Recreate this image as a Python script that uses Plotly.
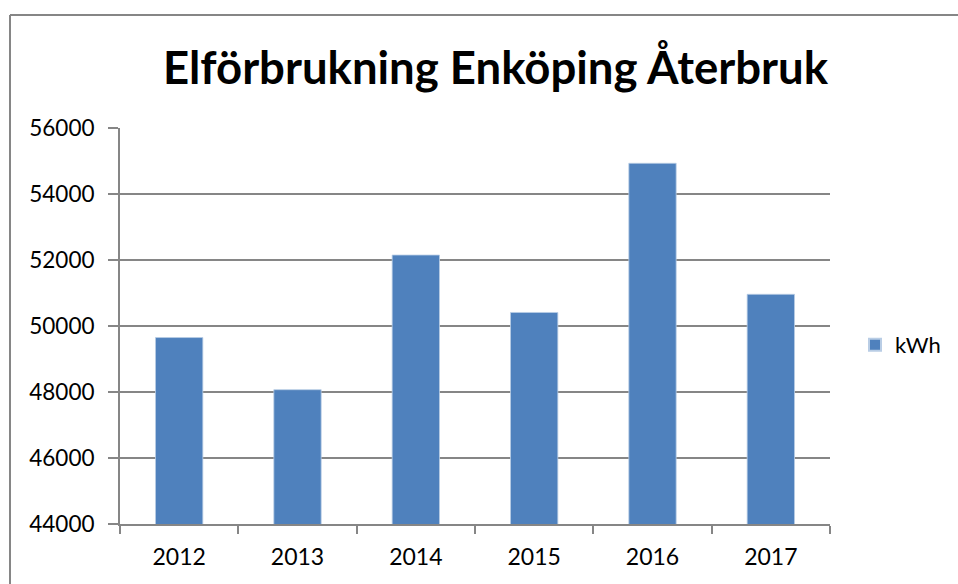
import plotly.graph_objects as go

years = ["2012", "2013", "2014", "2015", "2016", "2017"]
kwh = [49650, 48070, 52150, 50410, 54930, 50960]
y_ticks = [44000, 46000, 48000, 50000, 52000, 54000, 56000]

W, H = 958, 584
L, R, T, B = 120, 128, 128, 60
pw, ph = W - L - R, H - T - B

def px_x(p):
    return (p - L) / pw

def px_y(p):
    return (H - B - p) / ph

fig = go.Figure()
fig.add_trace(go.Bar(
    x=years, y=kwh, name="kWh",
    marker=dict(color="#4F81BD", line=dict(color="#B9CDE5", width=0.8)),
    width=0.4,
))

gray = "#868686"
fig.update_layout(
    width=W, height=H,
    margin=dict(l=L, r=R, t=T, b=B, autoexpand=False),
    paper_bgcolor="white", plot_bgcolor="white",
    title=dict(text="<b>Elförbrukning Enköping Återbruk</b>",
               font=dict(family="Lato", size=45.5, color="#000000"),
               x=px_x(495.5), xanchor="center", y=1 - 68 / H, yanchor="middle",
               xref="paper"),
    font=dict(family="Lato", color="#000000"),
    showlegend=True,
    legend=dict(x=px_x(855), y=px_y(345), xanchor="left", yanchor="middle",
                font=dict(family="Lato", size=22, color="#000000"),
                bgcolor="rgba(0,0,0,0)", itemsizing="constant"),
    xaxis=dict(showgrid=False, showline=True, linecolor=gray, linewidth=2,
               ticks="outside", ticklen=8, tickcolor=gray, tickwidth=2,
               tickson="boundaries", ticklabelstandoff=11,
               tickfont=dict(family="Lato", size=23, color="#000000"),
               fixedrange=True),
    yaxis=dict(range=[44000, 56000], tickvals=y_ticks,
               ticktext=[str(v) for v in y_ticks],
               showgrid=True, gridcolor=gray, gridwidth=2,
               showline=True, linecolor=gray, linewidth=2,
               ticks="outside", ticklen=10, tickcolor=gray, tickwidth=2,
               ticklabelstandoff=9,
               tickfont=dict(family="Lato", size=22.5, color="#000000"),
               zeroline=False, fixedrange=True),
    bargap=0.6,
)

# chart-area border (left and top edges visible)
fig.add_shape(type="line", xref="paper", yref="paper",
              x0=px_x(10), x1=px_x(W + 5), y0=px_y(15), y1=px_y(15),
              line=dict(color=gray, width=2))
fig.add_shape(type="line", xref="paper", yref="paper",
              x0=px_x(10), x1=px_x(10), y0=px_y(15), y1=px_y(H + 5),
              line=dict(color=gray, width=2))

fig.write_html("out.html",
               config={"displayModeBar": False},
               post_script="document.body.style.margin='0';document.body.style.overflow='hidden';")
